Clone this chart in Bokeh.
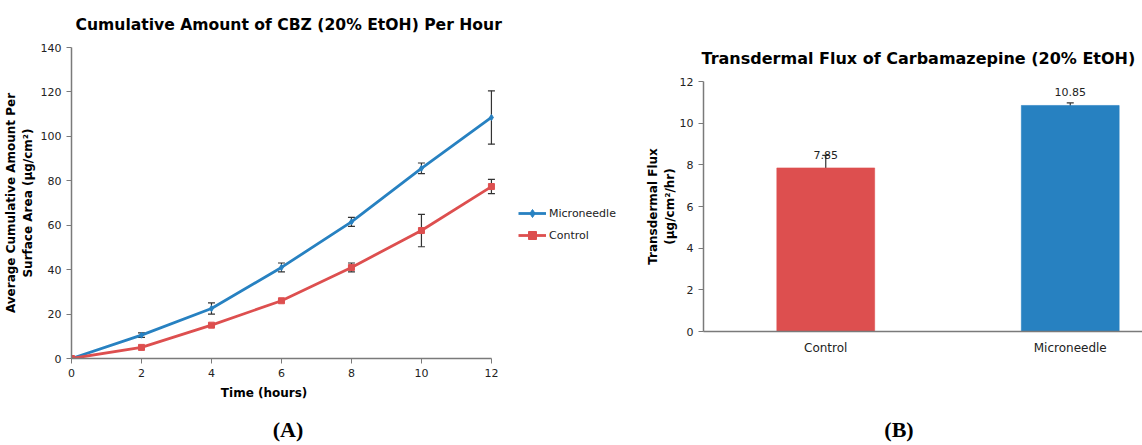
from bokeh.plotting import figure
from bokeh.models import (ColumnDataSource, Whisker, Legend, LegendItem,
                          FixedTicker, Range1d, Div)
from bokeh.layouts import row, column
from bokeh.embed import file_html
from bokeh.resources import INLINE
from bokeh.core.properties import value

# ---- Data: panel A ----
hours = [0, 2, 4, 6, 8, 10, 12]
micro_amount = [0, 10.5, 22.5, 41.0, 61.5, 85.6, 108.5]
micro_err = [0, 1.0, 2.5, 2.0, 2.0, 2.4, 12.0]
control_amount = [0, 5.0, 15.0, 26.0, 41.0, 57.6, 77.4]
control_err = [0, 0, 0, 0, 2.0, 7.3, 3.2]
amount_ticks = [0, 20, 40, 60, 80, 100, 120, 140]

# ---- Data: panel B ----
flux_categories = ["Control", "Microneedle"]
flux_values = [7.85, 10.85]
flux_err = [0.6, 0.12]
flux_labels = ["7.85", "10.85"]
flux_ticks = [0, 2, 4, 6, 8, 10, 12]

BLUE = "#2781C1"
RED = "#DD4F4F"
FONT = "DejaVu Sans"
AXIS_COL = "#7a7a7a"
TXT = "#222222"
NBSP = "\u00a0"


def style_axes(p):
    for ax in (p.xaxis, p.yaxis):
        ax.axis_line_color = AXIS_COL
        ax.axis_line_width = 1.5
        ax.major_tick_line_color = AXIS_COL
        ax.minor_tick_line_color = None
        ax.major_tick_in = 0
        ax.major_tick_out = 5
        ax.major_label_text_font = FONT
        ax.major_label_text_font_size = "11px"
        ax.major_label_text_color = TXT
        ax.axis_label_text_font = FONT
        ax.axis_label_text_font_style = "bold"
        ax.axis_label_text_color = "#000000"
    p.xgrid.grid_line_color = None
    p.ygrid.grid_line_color = None
    p.outline_line_color = None


def add_whiskers(p, xs, ys, errs):
    pts = [(x, y, e) for x, y, e in zip(xs, ys, errs) if e > 0]
    src = ColumnDataSource(dict(x=[t[0] for t in pts],
                                lo=[t[1] - t[2] for t in pts],
                                hi=[t[1] + t[2] for t in pts]))
    w = Whisker(source=src, base="x", upper="hi", lower="lo", dimension="height",
                line_color="#333333", line_width=1.2)
    for h in (w.upper_head, w.lower_head):
        h.size = 7
        h.line_color = "#333333"
        h.line_width = 1.2
    p.add_layout(w)


def caption(txt, left):
    return Div(text=txt, width=60, height=22, margin=(0, 0, 0, left),
               styles={"font-family": "Liberation Serif", "font-size": "22px",
                       "font-weight": "bold", "line-height": "22px",
                       "text-align": "center", "color": "#000"})


# ================= Panel A =================
# frame spans 0..16.26 so that the legend sits inside it; axis stops at 12
pA = figure(width=640, height=419, output_backend="svg", toolbar_location=None,
            x_range=Range1d(0, 16.26), y_range=Range1d(0, 140),
            min_border_left=71, min_border_right=0, min_border_top=46,
            min_border_bottom=61,
            title="Cumulative Amount of CBZ (20% EtOH) Per Hour")
pA.title.text_font = FONT
pA.title.text_font_size = "15.6px"
pA.title.text_font_style = "bold"
pA.title.text_color = "#000000"
pA.title.align = "left"
pA.title.offset = 4
pA.title.standoff = 27
style_axes(pA)
pA.xaxis.bounds = (0, 12)
pA.xaxis.ticker = FixedTicker(ticks=hours)
pA.yaxis.ticker = FixedTicker(ticks=amount_ticks)
# trailing no-break spaces shift the centred label over the 0-12 axis
pA.xaxis.axis_label = "Time (hours)" + NBSP * 44
pA.xaxis.axis_label_text_font_size = "12px"
pA.xaxis.axis_label_standoff = 6
pA.yaxis.axis_label = "Average Cumulative Amount Per\nSurface Area (µg/cm²)"
pA.yaxis.axis_label_text_font_size = "12px"
pA.yaxis.axis_label_standoff = 3
pA.yaxis.major_label_standoff = 5

srcM = ColumnDataSource(dict(x=hours, y=micro_amount))
srcC = ColumnDataSource(dict(x=hours, y=control_amount))

lM = pA.line("x", "y", source=srcM, line_color=BLUE, line_width=2.8)
mM = pA.scatter("x", "y", source=srcM, marker="diamond", size=6, color=BLUE)
lC = pA.line("x", "y", source=srcC, line_color=RED, line_width=2.8)
mC = pA.scatter("x", "y", source=srcC, marker="square", size=6, color=RED)

add_whiskers(pA, hours, micro_amount, micro_err)
add_whiskers(pA, hours, control_amount, control_err)

legend = Legend(items=[LegendItem(label="Microneedle", renderers=[lM, mM]),
                       LegendItem(label="Control", renderers=[lC, mC])],
                location=(447, 113), padding=0, margin=0, spacing=2,
                label_height=20, glyph_height=20, glyph_width=28,
                label_standoff=3, border_line_color=None,
                background_fill_alpha=0,
                label_text_font=FONT, label_text_font_size="11px",
                label_text_color=TXT)
pA.add_layout(legend)

# ================= Panel B =================
xpos = [i + 0.5 for i in range(len(flux_categories))]
pB = figure(width=502, height=419, output_backend="svg", toolbar_location=None,
            x_range=Range1d(0, 1.7955), y_range=Range1d(0, 12),
            min_border_left=63, min_border_right=0, min_border_top=81,
            min_border_bottom=88,
            title="Transdermal Flux of Carbamazepine (20% EtOH)")
pB.title.text_font = FONT
pB.title.text_font_size = "16px"
pB.title.text_font_style = "bold"
pB.title.text_color = "#000000"
pB.title.align = "left"
pB.title.offset = -2
pB.title.standoff = 28
style_axes(pB)
pB.xaxis.ticker = FixedTicker(ticks=xpos)
pB.xaxis.major_label_overrides = {x: c for x, c in zip(xpos, flux_categories)}
pB.xaxis.major_tick_line_color = None
pB.xaxis.major_tick_out = 0
pB.xaxis.major_label_text_font_size = "12px"
pB.xaxis.major_label_standoff = 9
pB.yaxis.ticker = FixedTicker(ticks=flux_ticks)
pB.yaxis.axis_label = "Transdermal Flux\n(µg/cm²/hr)"
pB.yaxis.axis_label_text_font_size = "12px"
pB.yaxis.axis_label_standoff = 0

srcB = ColumnDataSource(dict(x=xpos, top=flux_values, color=[RED, BLUE],
                             lab=flux_labels))
pB.vbar(x="x", top="top", bottom=0, width=0.4, source=srcB, fill_color="color",
        line_color="color", line_alpha=0.6)
add_whiskers(pB, xpos, flux_values, flux_err)
pB.text(x="x", y="top", text="lab", source=srcB, text_align="center",
        text_baseline="middle", y_offset=-13, text_font=value(FONT),
        text_font_size="11px", text_color=TXT)

layout = row(column(pA, caption("(A)", 258)), column(pB, caption("(B)", 229)))
open("out.html", "w").write(file_html(layout, INLINE))
